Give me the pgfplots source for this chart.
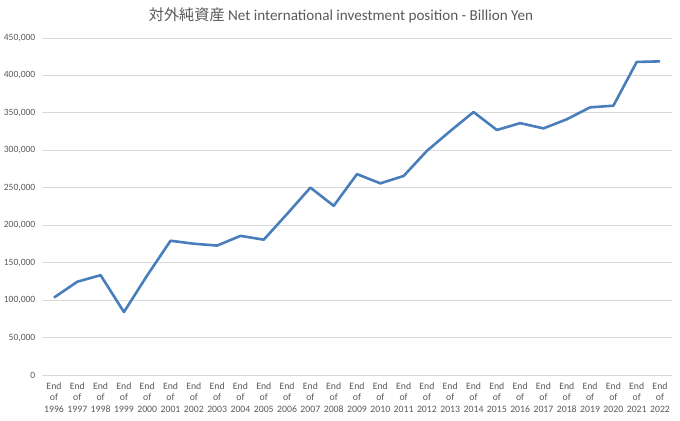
\documentclass[border=0pt]{standalone}
\usepackage{pgfplots}
\pgfplotsset{compat=1.18}
\usepackage{fontspec}
\setmainfont{Carlito}
\newfontfamily\cjk{Noto Sans CJK JP}
\definecolor{linec}{HTML}{4A7EBB}
\definecolor{gridc}{HTML}{D9D9D9}
\definecolor{textc}{HTML}{595959}
\begin{document}
\begin{tikzpicture}[x=1bp,y=1bp]
\path (0,0) rectangle (680,420);
\node[text=textc, font=\fontsize{15.2}{17}\selectfont, inner sep=0pt] at (341,404.5) {{\cjk 対外純資産} Net international investment position - Billion Yen};
\begin{axis}[
  at={(42.35bp,45bp)}, anchor=south west,
  scale only axis, width=629.3bp, height=337bp,
  xmin=-0.5, xmax=26.5, ymin=0, ymax=450000,
  ytick={0,50000,100000,150000,200000,250000,300000,350000,400000,450000},
  yticklabels={0,{50,000},{100,000},{150,000},{200,000},{250,000},{300,000},{350,000},{400,000},{450,000}},
  xtick={0,...,26},
  xticklabels={{End\\of\\1996},{End\\of\\1997},{End\\of\\1998},{End\\of\\1999},{End\\of\\2000},{End\\of\\2001},{End\\of\\2002},{End\\of\\2003},{End\\of\\2004},{End\\of\\2005},{End\\of\\2006},{End\\of\\2007},{End\\of\\2008},{End\\of\\2009},{End\\of\\2010},{End\\of\\2011},{End\\of\\2012},{End\\of\\2013},{End\\of\\2014},{End\\of\\2015},{End\\of\\2016},{End\\of\\2017},{End\\of\\2018},{End\\of\\2019},{End\\of\\2020},{End\\of\\2021},{End\\of\\2022}},
  axis line style={draw=none},
  major tick length=0pt,
  ymajorgrids, grid style={gridc, line width=0.8pt},
  scaled y ticks=false,
  yticklabel style={font=\fontsize{9.6}{11}\selectfont, text=textc, xshift=-3.5bp},
  xticklabel style={font=\fontsize{9.8}{11.2}\selectfont, text=textc, align=center, yshift=-4.5bp},
  clip=false,
]
\addplot[linec, line width=2.6bp, line join=round] coordinates {
(0,103359) (1,124587) (2,133273) (3,84073) (4,133047) (5,179257) (6,175308)
(7,172818) (8,185797) (9,180699) (10,215081) (11,250221) (12,225908) (13,268246)
(14,255906) (15,265741) (16,299302) (17,325732) (18,351114) (19,327189) (20,336306)
(21,329302) (22,341450) (23,357400) (24,359600) (25,418000) (26,418800)
};
\end{axis}
\end{tikzpicture}
\end{document}
